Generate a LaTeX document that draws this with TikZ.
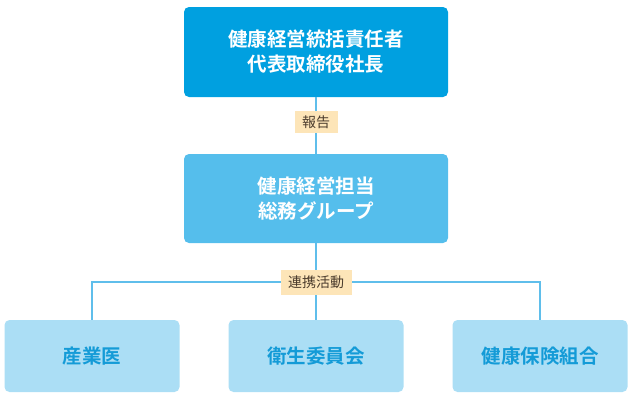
\documentclass[tikz,border=0pt]{standalone}
\usepackage{fontspec}
\setmainfont{Noto Sans CJK JP}[BoldFont=Noto Sans CJK JP Bold]
\usetikzlibrary{positioning}
\definecolor{head}{RGB}{0,160,224}
\definecolor{group}{RGB}{85,190,236}
\definecolor{member}{RGB}{171,222,245}
\definecolor{memtext}{RGB}{20,155,215}
\definecolor{wirecol}{RGB}{95,190,235}
\definecolor{tag}{RGB}{253,229,184}
\definecolor{tagtext}{RGB}{75,60,45}

\begin{document}
\begin{tikzpicture}[x=1pt,y=-1pt,
  box/.style={rounded corners=5pt,minimum width=264pt,minimum height=90pt,
    align=center,font=\fontsize{19.5}{25}\selectfont\bfseries,text=white,inner sep=0pt},
  memberbox/.style={rounded corners=5pt,fill=member,minimum width=175pt,minimum height=72pt,
    font=\fontsize{19.5}{25}\selectfont\bfseries,text=memtext,inner sep=0pt},
  tagbox/.style={fill=tag,text=tagtext,font=\fontsize{14}{16}\selectfont,
    inner xsep=7.5pt,inner ysep=0pt,minimum height=22pt},
  wire/.style={draw=wirecol,line width=1.2pt}]
  \useasboundingbox (0,0) rectangle (631,400);
  % boxes
  \node[box,fill=head] (head) at (316,52) {健康経営統括責任者\\代表取締役社長};
  \node[box,fill=group,minimum height=89pt] (group) at (316,198.5) {健康経営担当\\総務グループ};
  \node[memberbox] (doctor) at (92,356) {産業医};
  \node[memberbox] (committee) at (316,356) {衛生委員会};
  \node[memberbox] (union) at (540,356) {健康保険組合};
  % connectors
  \coordinate (hub) at (316,282);
  \draw[wire] (head.south) -- (group.north);
  \draw[wire] (group.south) -- (committee.north);
  \draw[wire] (doctor.north) |- (hub) -| (union.north);
  % labels
  \node[tagbox] (report) at (316,122) {報告};
  \node[tagbox,minimum height=25pt] (link) at (hub) {連携活動};
\end{tikzpicture}
\end{document}
